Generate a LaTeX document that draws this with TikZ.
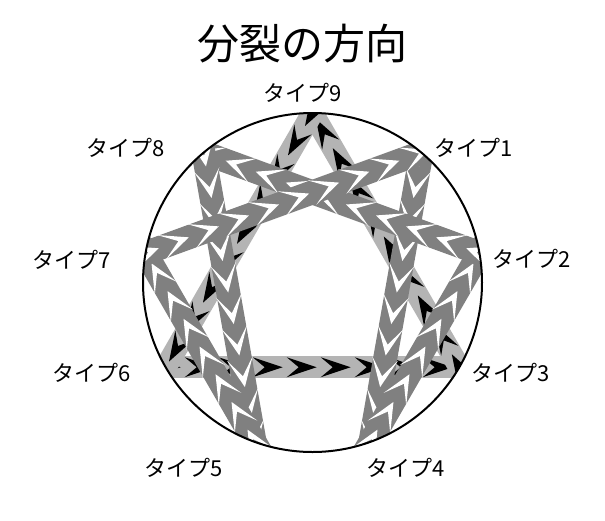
\documentclass[tikz,border=0pt]{standalone}
\usepackage{fontspec}
\newfontfamily\jpfont{Noto Sans CJK JP}
\usepackage{tikz}
\usetikzlibrary{calc}
\usetikzlibrary{decorations.markings}
\definecolor{lightband}{RGB}{180,180,180}
\definecolor{darkband}{RGB}{128,128,128}
\tikzset{
  tri line/.style={draw=lightband, line width=22pt, line cap=rect,
    postaction={decorate, decoration={markings,
      mark=between positions 0 and 1 step 34pt with
        {\fill[black] (-15pt,10pt) -- (15pt,0pt) -- (-15pt,-10pt) -- (-3pt,0pt) -- cycle;}}}},
  hex line/.style={draw=darkband, line width=24pt, line cap=rect,
    postaction={decorate, decoration={markings,
      mark=between positions 0 and 1 step 32pt with
        {\fill[white] (-15pt,13pt) -- (14pt,0pt) -- (-15pt,-13pt) -- (3pt,0pt) -- cycle;}}}},
  typelabel/.style={font=\jpfont\fontsize{22}{22}\selectfont, inner sep=0pt}
}

\begin{document}
\begin{tikzpicture}[x=1pt,y=-1pt]
\useasboundingbox (0,0) rectangle (605,520);
\node[font=\jpfont\fontsize{42}{42}\selectfont, inner sep=0pt] (title) at (302,44) {分裂の方向};
\coordinate (c) at (312.5,282.5);
\foreach \i in {1,...,9} {
  \coordinate (p\i) at ($(c)+({-90+40*\i}:169.5)$);
}
\begin{scope}
\clip (c) circle (169.5);
% 9 -> 6 -> 3 -> 9
\draw[tri line] (p6) -- (p3);
\draw[tri line] (p3) -- (p9);
\draw[tri line] (p9) -- (p6);
% 1 -> 4 -> 2 -> 8 -> 5 -> 7 -> 1
\foreach \a/\b in {1/4,4/2,2/8,8/5,5/7,7/1} {
  \draw[hex line] (p\a) -- (p\b);
}
\end{scope}
\draw[line width=2pt] (c) circle (169.5);
\foreach \i/\x/\y in {9/303/93, 1/474/148, 2/532/259, 3/511/373, 4/406/468,
                     5/184/468, 6/92/373, 7/72/260, 8/126/148} {
  \node[typelabel] (t\i) at (\x,\y) {タイプ\i};
}
\end{tikzpicture}
\end{document}
